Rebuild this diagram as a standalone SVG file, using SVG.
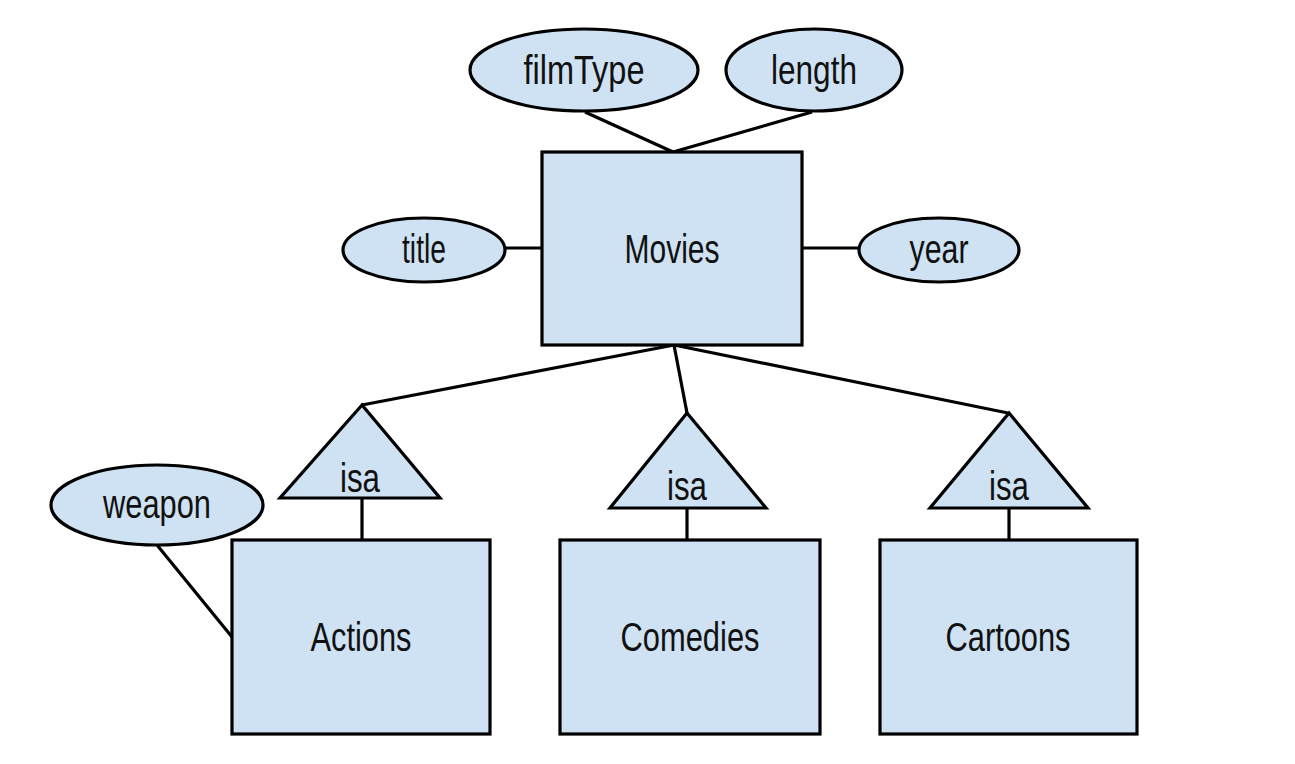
<svg xmlns="http://www.w3.org/2000/svg" width="1295" height="764" viewBox="0 0 1295 764">
<style>
.s{fill:#cfe2f3;stroke:#000;stroke-width:3.2}
.c line{stroke:#000;stroke-width:3.2}
text{font-family:"Liberation Sans",Arial,sans-serif;font-size:40px;fill:#111;text-anchor:middle}
</style>
<rect width="1295" height="764" fill="#fff"/>
<g class="c" id="connectors">
<line x1="585" y1="112" x2="673" y2="152"/>
<line x1="812" y1="112" x2="673" y2="152"/>
<line x1="505" y1="248" x2="542" y2="248"/>
<line x1="802" y1="248" x2="858" y2="248"/>
<line x1="674" y1="345" x2="362" y2="405"/>
<line x1="674" y1="345" x2="687" y2="413"/>
<line x1="674" y1="345" x2="1008" y2="413"/>
<line x1="362" y1="498" x2="362" y2="540"/>
<line x1="687" y1="508" x2="687" y2="540"/>
<line x1="1009" y1="508" x2="1009" y2="540"/>
<line x1="157" y1="545" x2="232" y2="637"/>
</g>
<g id="filmType"><ellipse class="s" cx="584" cy="70" rx="114" ry="41"/><text x="584" y="84" textLength="121" lengthAdjust="spacingAndGlyphs">filmType</text></g>
<g id="length"><ellipse class="s" cx="814" cy="70" rx="88" ry="41"/><text x="814" y="84" textLength="86" lengthAdjust="spacingAndGlyphs">length</text></g>
<g id="movies"><rect class="s" x="542" y="152" width="260" height="193"/><text x="672" y="263" textLength="95" lengthAdjust="spacingAndGlyphs">Movies</text></g>
<g id="title"><ellipse class="s" cx="424" cy="250" rx="81" ry="32"/><text x="424" y="263" textLength="44" lengthAdjust="spacingAndGlyphs">title</text></g>
<g id="year"><ellipse class="s" cx="939" cy="250" rx="80" ry="32"/><text x="939" y="263" textLength="59" lengthAdjust="spacingAndGlyphs">year</text></g>
<g id="isa1"><polygon class="s" points="362,405 280,498 440,498"/><text x="360" y="492" textLength="40" lengthAdjust="spacingAndGlyphs">isa</text></g>
<g id="isa2"><polygon class="s" points="687,413 610,508 766,508"/><text x="687" y="500" textLength="40" lengthAdjust="spacingAndGlyphs">isa</text></g>
<g id="isa3"><polygon class="s" points="1009,413 930,508 1088,508"/><text x="1009" y="500" textLength="40" lengthAdjust="spacingAndGlyphs">isa</text></g>
<g id="weapon"><ellipse class="s" cx="157" cy="505" rx="106" ry="40"/><text x="157" y="518" textLength="108" lengthAdjust="spacingAndGlyphs">weapon</text></g>
<g id="actions"><rect class="s" x="232" y="540" width="258" height="194"/><text x="361" y="651" textLength="101" lengthAdjust="spacingAndGlyphs">Actions</text></g>
<g id="comedies"><rect class="s" x="560" y="540" width="260" height="194"/><text x="690" y="651" textLength="139" lengthAdjust="spacingAndGlyphs">Comedies</text></g>
<g id="cartoons"><rect class="s" x="880" y="540" width="257" height="194"/><text x="1008" y="651" textLength="125" lengthAdjust="spacingAndGlyphs">Cartoons</text></g>
</svg>
